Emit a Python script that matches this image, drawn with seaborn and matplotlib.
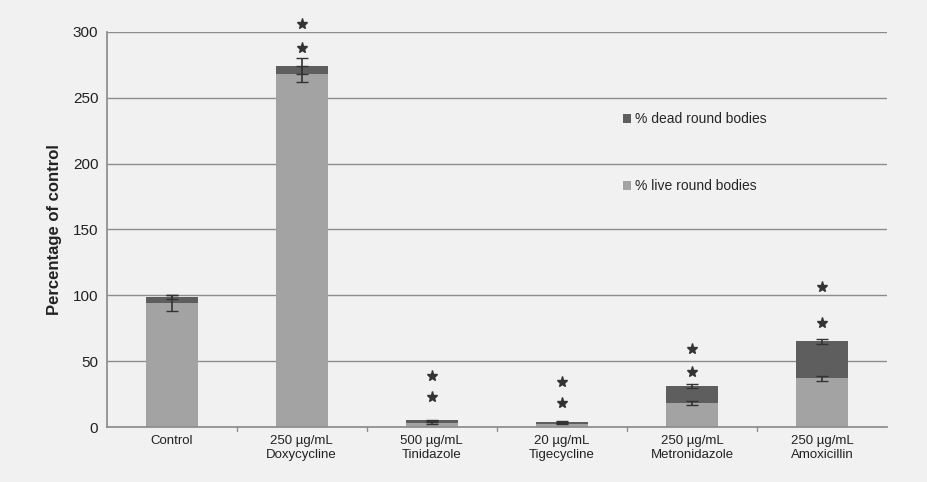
import matplotlib
matplotlib.use("Agg")
import matplotlib.pyplot as plt
import seaborn as sns
import pandas as pd
import numpy as np

categories = ["Control", "250 µg/mL\nDoxycycline", "500 µg/mL\nTinidazole",
              "20 µg/mL\nTigecycline", "250 µg/mL\nMetronidazole", "250 µg/mL\nAmoxicillin"]
live = [94, 268, 3, 2.5, 18, 37]
dead = [5, 6, 2, 1.5, 13, 28]
live_err = [6, 6, 0.5, 0.5, 1.5, 2]
total_err = [1.5, 6, 0.5, 0.5, 1.5, 2]
star_low = [None, 288, 23, 18, 42, 79]
star_high = [None, 306, 39, 34, 59, 106]
yticks = [0, 50, 100, 150, 200, 250, 300]

sns.set_theme(style="white")
plt.rcParams['font.family'] = ['Liberation Sans', 'DejaVu Sans']

bg = "#f1f1f1"
fig = plt.figure(figsize=(9.27, 4.82), dpi=100, facecolor=bg)
ax = fig.add_axes([0.115, 0.114, 0.842, 0.82], facecolor=bg)

df = pd.DataFrame({"cat": categories, "live": live, "dead": dead})
total = [l + d for l, d in zip(live, dead)]

for y in yticks[1:]:
    ax.axhline(y, color="#8c8c8c", lw=1.0, zorder=0)

sns.barplot(data=df, x="cat", y="live", color="#a3a3a3", saturation=1, width=0.4,
            ax=ax, zorder=2, label="% live round bodies", edgecolor="none", linewidth=0)
sns.barplot(data=df, x="cat", y="dead", bottom=df["live"], color="#5e5e5e", saturation=1,
            width=0.4, ax=ax, zorder=2, label="% dead round bodies", edgecolor="none", linewidth=0)

x = np.arange(len(categories))
ax.errorbar(x, live, yerr=live_err, fmt="none", ecolor="#333333", elinewidth=1.2, capsize=4, zorder=3)
ax.errorbar(x, total, yerr=total_err, fmt="none", ecolor="#333333", elinewidth=1.2, capsize=4, zorder=3)

for i in range(len(categories)):
    for s in (star_low[i], star_high[i]):
        if s is not None:
            ax.plot(x[i], s, marker="*", markersize=8, color="#333333", linestyle="none",
                    clip_on=False, zorder=4)

ax.set_ylim(0, 300)
ax.set_xlim(-0.5, len(categories) - 0.5)
ax.set_yticks(yticks)
ax.tick_params(axis="y", labelsize=11, colors="#222222", length=0, pad=6)
ax.tick_params(axis="x", labelsize=9.5, colors="#222222", length=0, pad=6)
ax.set_xlabel("")
ax.set_ylabel("Percentage of control", fontsize=12, fontweight="bold", color="#222222", labelpad=8)
for s in ["top", "right"]:
    ax.spines[s].set_visible(False)
ax.spines["left"].set_color("#8c8c8c")
ax.spines["bottom"].set_color("#8c8c8c")
for b in np.arange(0.5, len(categories) - 0.5, 1.0):
    ax.plot([b, b], [0, -3], color="#8c8c8c", lw=1, clip_on=False)

handles, labels = ax.get_legend_handles_labels()
order = [labels.index("% dead round bodies"), labels.index("% live round bodies")]
ax.legend([handles[i] for i in order], [labels[i] for i in order],
          loc="upper left", bbox_to_anchor=(0.645, 0.828), frameon=False,
          fontsize=10, handlelength=0.6, handleheight=0.6, handletextpad=0.3,
          labelspacing=3.8)

fig.savefig("out.png", dpi=100, facecolor=bg)
